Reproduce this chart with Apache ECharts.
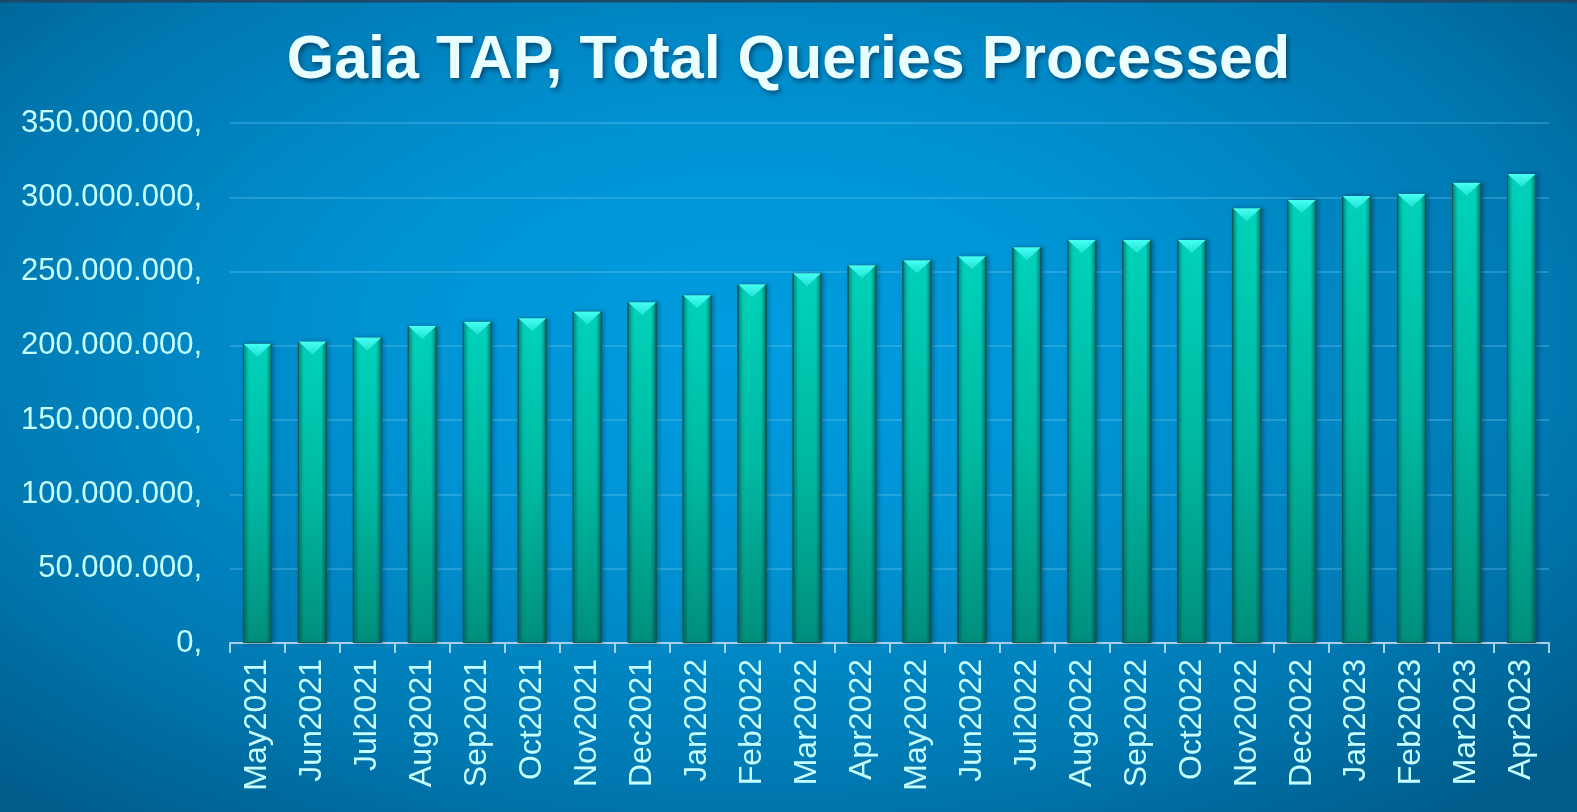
<!DOCTYPE html>
<html>
<head>
<meta charset="utf-8">
<script src="https://cdn.jsdelivr.net/npm/echarts@6/dist/echarts.min.js"></script>
<style>
html,body{margin:0;padding:0;width:1577px;height:812px;overflow:hidden;}
#c{width:1577px;height:812px;
background:
 linear-gradient(to bottom, #1d4765 0px, #1d4765 2px, rgba(0,0,0,0) 3px),
 radial-gradient(ellipse 70% 75% at 48% 42%, #009de0 0%, #0093d4 35%, #0079b2 72%, #005c8b 100%);}
</style>
</head>
<body>
<div id="c"></div>
<script>
var categories = ["May2021","Jun2021","Jul2021","Aug2021","Sep2021","Oct2021","Nov2021","Dec2021",
  "Jan2022","Feb2022","Mar2022","Apr2022","May2022","Jun2022","Jul2022","Aug2022","Sep2022","Oct2022",
  "Nov2022","Dec2022","Jan2023","Feb2023","Mar2023","Apr2023"];
var totalQueries = [201500000,202900000,205600000,213300000,216200000,218500000,223200000,229300000,
  234000000,241400000,248900000,254300000,257600000,260300000,266400000,271200000,271200000,271300000,
  292600000,298200000,300900000,302200000,309700000,315700000];
var yTicks = [0,50000000,100000000,150000000,200000000,250000000,300000000,350000000];

function fmt(v){
  var s = String(Math.round(v));
  return s.replace(/\B(?=(\d{3})+(?!\d))/g, '.') + ',';
}

var chart = echarts.init(document.getElementById('c'), null, {renderer:'canvas'});
chart.setOption({
  backgroundColor: 'transparent',
  animation: false,
  title: {
    text: 'Gaia TAP, Total Queries Processed',
    left: 'center',
    top: 26,
    textStyle: {
      fontFamily: 'Liberation Sans, Arial, sans-serif',
      fontSize: 61,
      fontWeight: 'bold',
      color: '#eaffff',
      textShadowColor: 'rgba(0,30,60,0.55)',
      textShadowBlur: 5,
      textShadowOffsetX: 2,
      textShadowOffsetY: 3
    }
  },
  grid: {left: 230, right: 28, top: 123, bottom: 169, containLabel: false},
  xAxis: {
    type: 'category',
    data: categories,
    axisLine: {lineStyle: {color: '#a9d0e6', width: 2}},
    axisTick: {show: true, length: 10, lineStyle: {color: '#a9d0e6', width: 2}},
    axisLabel: {
      rotate: 90, margin: 16, interval: 0,
      color: '#c6ffff',
      fontFamily: 'Liberation Sans, Arial, sans-serif',
      fontSize: 32
    }
  },
  yAxis: {
    type: 'value',
    min: yTicks[0],
    max: yTicks[yTicks.length-1],
    interval: yTicks[1]-yTicks[0],
    axisLine: {show: false},
    axisTick: {show: false},
    splitLine: {lineStyle: {color: 'rgba(110,200,240,0.32)', width: 2}},
    axisLabel: {
      formatter: fmt,
      margin: 28,
      color: '#c6ffff',
      fontFamily: 'Liberation Sans, Arial, sans-serif',
      fontSize: 31
    }
  },
  series: [
    {
      type: 'bar',
      data: totalQueries,
      barWidth: 29,
      barGap: '-100%',
      itemStyle: {
        color: {type:'linear', x:0, y:0, x2:0, y2:1, colorStops:[
          {offset:0, color:'#00d2ba'},
          {offset:0.5, color:'#00b9a2'},
          {offset:1, color:'#008f7c'}
        ]},
        borderColor: '#0b5a58',
        borderWidth: 1,
        shadowColor: 'rgba(0,30,50,0.35)',
        shadowBlur: 4,
        shadowOffsetX: 2
      },
      z: 2
    },
    {
      type: 'bar',
      data: totalQueries,
      barWidth: 29,
      barGap: '-100%',
      silent: true,
      itemStyle: {
        color: {type:'linear', x:0, y:0, x2:1, y2:0, colorStops:[
          {offset:0, color:'rgba(0,50,50,0.45)'},
          {offset:0.18, color:'rgba(0,50,50,0)'},
          {offset:0.8, color:'rgba(0,50,50,0)'},
          {offset:1, color:'rgba(0,40,40,0.55)'}
        ]},
        borderColor: '#0b5a58',
        borderWidth: 1
      },
      z: 3
    },
    {
      type: 'pictorialBar',
      data: totalQueries,
      symbol: 'path://M0,0 L10,0 L5,4.5 Z',
      symbolSize: [28, 13],
      symbolPosition: 'end',
      symbolOffset: [0, 0],
      itemStyle: {
        color: {type:'linear', x:0, y:0, x2:0, y2:1, colorStops:[
          {offset:0, color:'#46fff5'},
          {offset:1, color:'#1fe2d2'}
        ]}
      },
      z: 4
    }
  ]
});
</script>
</body>
</html>
